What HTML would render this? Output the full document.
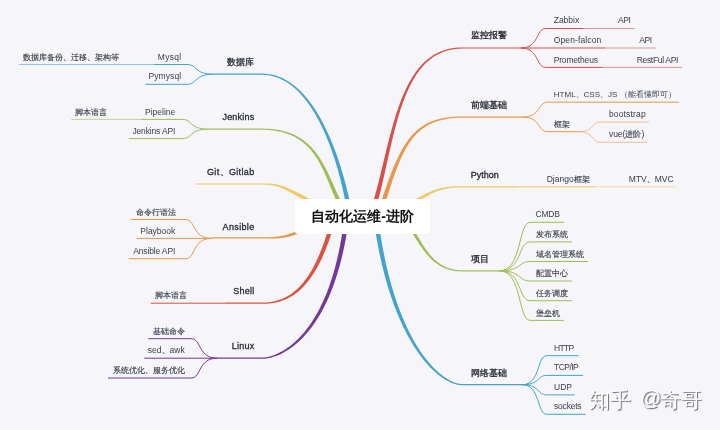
<!DOCTYPE html>
<html><head><meta charset="utf-8"><style>
html,body{margin:0;padding:0;width:720px;height:430px;overflow:hidden;background:#f5f5fa;}
svg{position:absolute;left:0;top:0;}
.txt{will-change:transform;}
.ctr,.wm{will-change:transform;}
text{font-family:"Liberation Sans",sans-serif;}
.box{position:absolute;left:295px;top:199px;width:135px;height:35px;background:#fff;border-radius:3px;}
.ctr{position:absolute;left:295px;top:208px;width:135px;height:35px;line-height:17px;text-align:center;font:bold 14px "Liberation Sans",sans-serif;color:#111;}
.wm{position:absolute;top:386px;font:21px "Liberation Sans",sans-serif;color:#fff;text-shadow:1.4px 1.4px 0.8px rgba(0,0,0,0.42),0.7px 0.7px 0.4px rgba(0,0,0,0.22);white-space:nowrap;}
</style></head><body>
<svg width="720" height="430" viewBox="0 0 720 430">
<path d="M352.55,215.62 L352.04,212.83 L351.50,209.98 L350.93,207.08 L350.32,204.14 L349.69,201.16 L349.02,198.13 L348.32,195.07 L347.58,191.97 L346.82,188.85 L346.02,185.70 L345.19,182.53 L344.32,179.34 L343.42,176.14 L342.49,172.92 L341.52,169.69 L340.52,166.46 L339.49,163.23 L338.42,160.01 L337.31,156.79 L336.17,153.57 L335.00,150.37 L333.79,147.19 L332.54,144.03 L331.26,140.89 L329.94,137.78 L328.58,134.70 L327.19,131.65 L325.76,128.64 L324.30,125.68 L322.80,122.75 L321.25,119.88 L319.68,117.06 L318.06,114.29 L316.41,111.59 L314.71,108.94 L312.98,106.36 L311.21,103.85 L309.40,101.42 L307.55,99.06 L305.66,96.78 L303.73,94.59 L301.77,92.48 L299.76,90.47 L297.71,88.55 L295.62,86.73 L293.48,85.01 L291.31,83.39 L289.10,81.89 L286.84,80.50 L284.55,79.23 L282.21,78.07 L279.83,77.04 L277.41,76.14 L274.94,75.37 L272.44,74.73 L269.89,74.24 L267.30,73.88 L264.67,73.67 L262.00,73.60 L262.00,74.80 L264.60,74.88 L267.16,75.11 L269.67,75.49 L272.14,76.01 L274.57,76.66 L276.95,77.44 L279.29,78.36 L281.58,79.39 L283.84,80.55 L286.05,81.83 L288.22,83.22 L290.35,84.72 L292.44,86.33 L294.49,88.05 L296.49,89.87 L298.46,91.78 L300.39,93.79 L302.28,95.88 L304.13,98.07 L305.94,100.34 L307.71,102.69 L309.44,105.11 L311.13,107.61 L312.79,110.18 L314.41,112.81 L315.98,115.51 L317.52,118.26 L319.03,121.07 L320.49,123.94 L321.92,126.85 L323.31,129.80 L324.66,132.80 L325.98,135.84 L327.26,138.91 L328.50,142.01 L329.71,145.13 L330.88,148.29 L332.01,151.46 L333.11,154.64 L334.17,157.84 L335.20,161.05 L336.20,164.27 L337.15,167.49 L338.08,170.70 L338.97,173.92 L339.82,177.12 L340.64,180.31 L341.43,183.49 L342.18,186.65 L342.90,189.78 L343.59,192.89 L344.25,195.97 L344.87,199.01 L345.45,202.02 L346.01,204.99 L346.53,207.91 L347.03,210.79 L347.49,213.61 L347.91,216.38Z" fill="#43a3cb"/>
<line x1="262.0" y1="74.2" x2="213.6" y2="74.2" stroke="#43a3cb" stroke-width="1.2"/>
<path d="M349.02,214.67 L347.90,213.06 L346.81,211.40 L345.75,209.71 L344.72,207.99 L343.71,206.23 L342.73,204.45 L341.76,202.63 L340.82,200.79 L339.89,198.93 L338.98,197.05 L338.08,195.15 L337.19,193.23 L336.31,191.31 L335.43,189.36 L334.56,187.42 L333.69,185.46 L332.81,183.50 L331.93,181.54 L331.05,179.58 L330.15,177.62 L329.25,175.67 L328.33,173.73 L327.39,171.80 L326.43,169.87 L325.46,167.97 L324.45,166.08 L323.43,164.21 L322.37,162.36 L321.28,160.54 L320.16,158.74 L319.00,156.97 L317.80,155.23 L316.56,153.53 L315.28,151.86 L313.95,150.23 L312.57,148.64 L311.14,147.09 L309.65,145.59 L308.11,144.14 L306.51,142.74 L304.85,141.39 L303.13,140.10 L301.35,138.86 L299.49,137.68 L297.57,136.56 L295.57,135.51 L293.50,134.53 L291.35,133.61 L289.13,132.76 L286.82,131.99 L284.43,131.29 L281.95,130.67 L279.39,130.12 L276.73,129.66 L273.98,129.27 L271.14,128.98 L268.19,128.76 L265.15,128.64 L262.00,128.60 L262.00,129.80 L265.11,129.85 L268.12,130.00 L271.02,130.24 L273.82,130.57 L276.51,130.98 L279.12,131.47 L281.62,132.05 L284.03,132.70 L286.36,133.42 L288.59,134.22 L290.74,135.08 L292.81,136.02 L294.80,137.02 L296.71,138.08 L298.54,139.20 L300.31,140.38 L302.00,141.62 L303.63,142.91 L305.20,144.25 L306.71,145.65 L308.15,147.09 L309.55,148.57 L310.89,150.10 L312.18,151.68 L313.42,153.29 L314.61,154.94 L315.77,156.63 L316.88,158.35 L317.96,160.10 L319.00,161.88 L320.00,163.70 L320.98,165.53 L321.93,167.39 L322.86,169.27 L323.76,171.17 L324.64,173.09 L325.50,175.03 L326.35,176.98 L327.19,178.93 L328.01,180.90 L328.83,182.88 L329.64,184.86 L330.45,186.84 L331.26,188.83 L332.07,190.81 L332.89,192.79 L333.71,194.77 L334.54,196.73 L335.39,198.69 L336.25,200.64 L337.13,202.58 L338.03,204.50 L338.95,206.40 L339.90,208.28 L340.88,210.14 L341.90,211.98 L342.94,213.79 L344.02,215.57 L345.15,217.33Z" fill="#a0bd55"/>
<line x1="262.0" y1="129.2" x2="208.5" y2="129.2" stroke="#a0bd55" stroke-width="1.2"/>
<path d="M340.23,213.89 L337.50,212.58 L334.86,211.31 L332.31,210.08 L329.84,208.88 L327.46,207.71 L325.16,206.58 L322.95,205.48 L320.81,204.42 L318.74,203.39 L316.75,202.39 L314.83,201.43 L312.98,200.50 L311.20,199.59 L309.48,198.72 L307.82,197.88 L306.22,197.07 L304.68,196.29 L303.19,195.53 L301.76,194.81 L300.37,194.11 L299.04,193.44 L297.75,192.79 L296.50,192.17 L295.29,191.58 L294.13,191.01 L293.00,190.47 L291.91,189.95 L290.84,189.46 L289.81,188.98 L288.81,188.54 L287.83,188.11 L286.87,187.70 L285.94,187.32 L285.02,186.96 L284.12,186.62 L283.24,186.30 L282.36,185.99 L281.50,185.71 L280.65,185.45 L279.80,185.20 L278.96,184.98 L278.11,184.77 L277.27,184.58 L276.43,184.40 L275.58,184.24 L274.72,184.10 L273.86,183.97 L272.98,183.86 L272.10,183.76 L271.19,183.67 L270.27,183.60 L269.33,183.54 L268.37,183.49 L267.38,183.45 L266.37,183.42 L265.33,183.41 L264.25,183.40 L263.14,183.40 L262.00,183.40 L262.00,184.60 L263.13,184.61 L264.23,184.64 L265.29,184.68 L266.32,184.73 L267.31,184.79 L268.28,184.87 L269.22,184.95 L270.13,185.05 L271.03,185.17 L271.90,185.29 L272.75,185.43 L273.59,185.59 L274.41,185.76 L275.22,185.95 L276.03,186.15 L276.83,186.36 L277.62,186.60 L278.41,186.85 L279.20,187.11 L280.00,187.40 L280.80,187.70 L281.61,188.03 L282.43,188.37 L283.26,188.73 L284.10,189.12 L284.97,189.52 L285.85,189.95 L286.76,190.40 L287.69,190.87 L288.65,191.37 L289.64,191.89 L290.66,192.43 L291.71,193.00 L292.79,193.60 L293.92,194.22 L295.09,194.87 L296.29,195.54 L297.55,196.24 L298.85,196.97 L300.20,197.73 L301.60,198.51 L303.05,199.33 L304.56,200.17 L306.13,201.05 L307.76,201.96 L309.45,202.89 L311.21,203.86 L313.03,204.86 L314.92,205.89 L316.89,206.96 L318.92,208.06 L321.04,209.19 L323.23,210.36 L325.50,211.56 L327.86,212.80 L330.30,214.07 L332.82,215.38 L335.44,216.72 L338.15,218.11Z" fill="#f1c862"/>
<line x1="262.0" y1="184.0" x2="195.3" y2="184.0" stroke="#f1c862" stroke-width="1.2"/>
<path d="M338.46,213.82 L335.82,214.94 L333.27,216.02 L330.81,217.06 L328.43,218.06 L326.14,219.04 L323.92,219.98 L321.79,220.88 L319.73,221.76 L317.74,222.60 L315.83,223.41 L313.98,224.18 L312.20,224.93 L310.49,225.65 L308.84,226.34 L307.25,227.00 L305.71,227.64 L304.23,228.24 L302.81,228.82 L301.44,229.38 L300.11,229.91 L298.83,230.41 L297.60,230.89 L296.41,231.34 L295.26,231.78 L294.14,232.19 L293.06,232.58 L292.02,232.95 L291.00,233.29 L290.01,233.62 L289.05,233.93 L288.11,234.22 L287.20,234.49 L286.30,234.75 L285.42,234.99 L284.56,235.21 L283.70,235.42 L282.86,235.61 L282.02,235.79 L281.19,235.95 L280.36,236.11 L279.53,236.25 L278.69,236.38 L277.86,236.49 L277.01,236.60 L276.16,236.70 L275.29,236.78 L274.41,236.86 L273.52,236.93 L272.61,237.00 L271.67,237.05 L270.72,237.10 L269.74,237.14 L268.73,237.18 L267.69,237.21 L266.63,237.24 L265.53,237.26 L264.39,237.28 L263.21,237.29 L262.00,237.30 L262.00,238.50 L263.22,238.51 L264.39,238.52 L265.53,238.53 L266.64,238.54 L267.71,238.55 L268.75,238.56 L269.77,238.56 L270.75,238.56 L271.72,238.55 L272.67,238.54 L273.60,238.53 L274.51,238.50 L275.41,238.47 L276.29,238.43 L277.17,238.38 L278.04,238.33 L278.91,238.26 L279.78,238.18 L280.64,238.09 L281.51,237.99 L282.38,237.87 L283.25,237.74 L284.14,237.60 L285.04,237.45 L285.95,237.27 L286.87,237.09 L287.81,236.88 L288.77,236.66 L289.75,236.42 L290.76,236.17 L291.79,235.89 L292.85,235.60 L293.94,235.28 L295.06,234.95 L296.22,234.59 L297.41,234.22 L298.64,233.82 L299.92,233.39 L301.23,232.95 L302.60,232.48 L304.01,231.98 L305.47,231.47 L306.98,230.92 L308.55,230.35 L310.18,229.75 L311.86,229.12 L313.61,228.47 L315.42,227.78 L317.30,227.07 L319.25,226.33 L321.26,225.55 L323.35,224.75 L325.52,223.91 L327.76,223.04 L330.09,222.14 L332.49,221.20 L334.98,220.23 L337.56,219.22 L340.23,218.18Z" fill="#e8984a"/>
<line x1="262.0" y1="237.9" x2="211.5" y2="237.9" stroke="#e8984a" stroke-width="1.2"/>
<path d="M331.81,215.42 L330.86,219.25 L329.90,222.96 L328.92,226.56 L327.93,230.05 L326.92,233.43 L325.90,236.71 L324.86,239.89 L323.81,242.96 L322.75,245.93 L321.68,248.80 L320.59,251.58 L319.50,254.26 L318.39,256.84 L317.27,259.33 L316.14,261.74 L315.01,264.05 L313.86,266.27 L312.70,268.41 L311.54,270.47 L310.37,272.44 L309.19,274.33 L308.00,276.14 L306.80,277.88 L305.60,279.54 L304.40,281.12 L303.18,282.64 L301.97,284.08 L300.74,285.45 L299.51,286.76 L298.28,288.00 L297.04,289.17 L295.80,290.29 L294.56,291.34 L293.31,292.33 L292.06,293.27 L290.81,294.15 L289.55,294.98 L288.30,295.75 L287.04,296.48 L285.78,297.15 L284.51,297.78 L283.25,298.36 L281.99,298.90 L280.72,299.39 L279.46,299.84 L278.19,300.25 L276.93,300.62 L275.67,300.96 L274.41,301.26 L273.15,301.52 L271.90,301.76 L270.64,301.96 L269.39,302.13 L268.15,302.27 L266.91,302.39 L265.67,302.47 L264.44,302.54 L263.22,302.58 L262.00,302.60 L262.00,303.80 L263.24,303.80 L264.48,303.78 L265.74,303.75 L267.00,303.69 L268.27,303.61 L269.55,303.50 L270.83,303.36 L272.12,303.20 L273.42,303.00 L274.72,302.77 L276.03,302.51 L277.34,302.21 L278.66,301.88 L279.99,301.50 L281.32,301.08 L282.65,300.62 L283.98,300.11 L285.32,299.55 L286.66,298.95 L288.00,298.30 L289.34,297.59 L290.68,296.83 L292.03,296.02 L293.37,295.15 L294.71,294.22 L296.05,293.23 L297.39,292.18 L298.73,291.06 L300.06,289.88 L301.39,288.63 L302.71,287.32 L304.03,285.93 L305.35,284.48 L306.66,282.95 L307.96,281.35 L309.26,279.67 L310.55,277.92 L311.83,276.08 L313.11,274.17 L314.38,272.17 L315.64,270.09 L316.89,267.93 L318.13,265.68 L319.36,263.34 L320.58,260.91 L321.79,258.38 L322.99,255.77 L324.17,253.06 L325.35,250.26 L326.51,247.36 L327.66,244.35 L328.80,241.25 L329.93,238.05 L331.04,234.74 L332.13,231.32 L333.21,227.80 L334.28,224.17 L335.33,220.43 L336.37,216.58Z" fill="#d9533f"/>
<line x1="262.0" y1="303.2" x2="225" y2="303.2" stroke="#d9533f" stroke-width="1.2"/>
<path d="M344.51,215.72 L343.80,221.69 L343.03,227.50 L342.20,233.14 L341.31,238.62 L340.36,243.94 L339.36,249.11 L338.30,254.12 L337.20,258.99 L336.05,263.70 L334.85,268.27 L333.60,272.69 L332.32,276.97 L330.99,281.10 L329.63,285.11 L328.23,288.97 L326.80,292.70 L325.33,296.30 L323.84,299.77 L322.31,303.11 L320.77,306.33 L319.20,309.43 L317.60,312.40 L315.99,315.26 L314.36,318.00 L312.71,320.62 L311.05,323.14 L309.38,325.55 L307.70,327.84 L306.02,330.04 L304.32,332.13 L302.63,334.12 L300.93,336.01 L299.23,337.80 L297.54,339.50 L295.85,341.11 L294.17,342.63 L292.49,344.06 L290.83,345.40 L289.18,346.67 L287.54,347.85 L285.92,348.95 L284.32,349.97 L282.74,350.92 L281.19,351.80 L279.65,352.60 L278.15,353.34 L276.67,354.01 L275.23,354.61 L273.82,355.16 L272.44,355.64 L271.10,356.06 L269.80,356.43 L268.55,356.75 L267.33,357.01 L266.17,357.22 L265.05,357.38 L263.98,357.50 L262.96,357.57 L262.00,357.60 L262.00,358.80 L263.01,358.79 L264.07,358.74 L265.19,358.65 L266.36,358.51 L267.57,358.33 L268.84,358.09 L270.15,357.81 L271.50,357.47 L272.90,357.07 L274.33,356.62 L275.80,356.10 L277.31,355.52 L278.85,354.88 L280.42,354.16 L282.02,353.38 L283.65,352.52 L285.30,351.59 L286.97,350.59 L288.67,349.50 L290.38,348.33 L292.11,347.08 L293.86,345.75 L295.61,344.32 L297.38,342.81 L299.16,341.20 L300.94,339.50 L302.72,337.70 L304.51,335.80 L306.30,333.81 L308.08,331.70 L309.86,329.50 L311.63,327.18 L313.39,324.76 L315.14,322.22 L316.88,319.58 L318.60,316.81 L320.31,313.93 L322.00,310.92 L323.66,307.80 L325.30,304.55 L326.92,301.17 L328.50,297.66 L330.06,294.02 L331.58,290.25 L333.07,286.35 L334.53,282.31 L335.94,278.12 L337.32,273.80 L338.65,269.33 L339.94,264.72 L341.18,259.96 L342.37,255.04 L343.51,249.98 L344.60,244.76 L345.63,239.39 L346.61,233.85 L347.53,228.16 L348.38,222.30 L349.18,216.28Z" fill="#743896"/>
<line x1="262.0" y1="358.2" x2="217.2" y2="358.2" stroke="#743896" stroke-width="1.2"/>
<path d="M373.36,216.75 L374.44,213.35 L375.49,209.89 L376.51,206.37 L377.50,202.81 L378.46,199.21 L379.40,195.56 L380.32,191.88 L381.23,188.16 L382.11,184.42 L382.99,180.65 L383.85,176.86 L384.71,173.05 L385.56,169.23 L386.41,165.40 L387.26,161.57 L388.11,157.73 L388.96,153.90 L389.82,150.07 L390.70,146.26 L391.58,142.46 L392.48,138.68 L393.40,134.92 L394.33,131.19 L395.29,127.49 L396.28,123.82 L397.29,120.20 L398.33,116.61 L399.40,113.08 L400.51,109.59 L401.65,106.16 L402.83,102.79 L404.06,99.48 L405.33,96.24 L406.64,93.07 L408.01,89.98 L409.43,86.96 L410.90,84.03 L412.42,81.19 L414.01,78.44 L415.66,75.78 L417.37,73.23 L419.14,70.77 L420.99,68.42 L422.91,66.19 L424.90,64.07 L426.96,62.06 L429.11,60.18 L431.33,58.43 L433.64,56.80 L436.04,55.31 L438.53,53.96 L441.11,52.75 L443.78,51.68 L446.56,50.77 L449.43,50.01 L452.41,49.40 L455.50,48.97 L458.69,48.70 L462.00,48.60 L462.00,47.40 L458.63,47.48 L455.36,47.73 L452.20,48.15 L449.14,48.73 L446.18,49.48 L443.32,50.38 L440.55,51.44 L437.88,52.65 L435.29,54.01 L432.80,55.51 L430.39,57.14 L428.07,58.91 L425.83,60.81 L423.67,62.84 L421.58,64.98 L419.58,67.24 L417.64,69.62 L415.78,72.10 L413.98,74.68 L412.25,77.37 L410.59,80.15 L408.98,83.02 L407.43,85.97 L405.94,89.01 L404.49,92.13 L403.10,95.32 L401.76,98.58 L400.46,101.91 L399.21,105.30 L397.99,108.75 L396.81,112.25 L395.67,115.80 L394.56,119.39 L393.48,123.03 L392.42,126.70 L391.39,130.41 L390.39,134.15 L389.40,137.91 L388.43,141.69 L387.48,145.49 L386.53,149.30 L385.60,153.12 L384.68,156.94 L383.76,160.76 L382.84,164.58 L381.92,168.39 L381.00,172.19 L380.08,175.97 L379.15,179.73 L378.21,183.46 L377.25,187.17 L376.29,190.84 L375.30,194.48 L374.30,198.07 L373.27,201.61 L372.22,205.11 L371.14,208.55 L370.04,211.93 L368.90,215.25Z" fill="#d84f45"/>
<line x1="462.0" y1="48.0" x2="520.7" y2="48.0" stroke="#d84f45" stroke-width="1.2"/>
<path d="M381.03,216.72 L382.07,213.38 L383.08,210.10 L384.08,206.88 L385.06,203.72 L386.02,200.61 L386.97,197.57 L387.91,194.58 L388.84,191.64 L389.77,188.77 L390.68,185.95 L391.59,183.20 L392.50,180.50 L393.41,177.85 L394.31,175.27 L395.22,172.74 L396.13,170.27 L397.05,167.86 L397.97,165.51 L398.90,163.21 L399.84,160.97 L400.79,158.79 L401.76,156.67 L402.74,154.61 L403.73,152.60 L404.74,150.65 L405.78,148.75 L406.83,146.92 L407.90,145.14 L409.00,143.42 L410.13,141.75 L411.28,140.14 L412.47,138.59 L413.68,137.09 L414.93,135.65 L416.21,134.27 L417.52,132.94 L418.88,131.67 L420.27,130.45 L421.71,129.29 L423.19,128.18 L424.72,127.13 L426.29,126.13 L427.91,125.18 L429.59,124.30 L431.31,123.46 L433.09,122.69 L434.93,121.96 L436.83,121.30 L438.78,120.69 L440.80,120.13 L442.88,119.63 L445.03,119.19 L447.24,118.80 L449.52,118.48 L451.87,118.20 L454.29,117.99 L456.79,117.83 L459.36,117.74 L462.00,117.70 L462.00,116.50 L459.33,116.52 L456.73,116.59 L454.21,116.72 L451.75,116.90 L449.36,117.14 L447.04,117.44 L444.78,117.79 L442.58,118.20 L440.44,118.67 L438.36,119.20 L436.34,119.78 L434.38,120.42 L432.47,121.12 L430.61,121.87 L428.80,122.69 L427.04,123.56 L425.33,124.49 L423.67,125.49 L422.05,126.54 L420.47,127.64 L418.94,128.81 L417.45,130.04 L415.99,131.32 L414.58,132.66 L413.20,134.06 L411.86,135.52 L410.55,137.04 L409.27,138.61 L408.03,140.24 L406.81,141.93 L405.62,143.67 L404.46,145.47 L403.31,147.33 L402.20,149.24 L401.10,151.21 L400.02,153.24 L398.96,155.32 L397.91,157.46 L396.88,159.66 L395.86,161.91 L394.85,164.21 L393.85,166.58 L392.85,168.99 L391.86,171.47 L390.88,174.00 L389.90,176.59 L388.91,179.23 L387.93,181.92 L386.94,184.68 L385.95,187.49 L384.96,190.35 L383.95,193.27 L382.94,196.25 L381.91,199.28 L380.87,202.37 L379.82,205.51 L378.75,208.71 L377.67,211.97 L376.56,215.28Z" fill="#e8984a"/>
<line x1="462.0" y1="117.1" x2="522.5" y2="117.1" stroke="#e8984a" stroke-width="1.2"/>
<path d="M385.88,218.18 L388.00,217.27 L390.04,216.38 L392.01,215.49 L393.92,214.61 L395.77,213.74 L397.55,212.88 L399.27,212.03 L400.93,211.20 L402.54,210.37 L404.10,209.55 L405.60,208.74 L407.06,207.95 L408.46,207.17 L409.83,206.40 L411.15,205.64 L412.43,204.89 L413.67,204.16 L414.88,203.44 L416.06,202.73 L417.20,202.04 L418.31,201.36 L419.40,200.69 L420.46,200.04 L421.50,199.40 L422.52,198.78 L423.52,198.17 L424.51,197.58 L425.48,197.00 L426.45,196.44 L427.40,195.89 L428.35,195.36 L429.29,194.84 L430.23,194.34 L431.18,193.85 L432.12,193.38 L433.08,192.93 L434.04,192.49 L435.01,192.07 L435.99,191.67 L436.99,191.28 L438.01,190.91 L439.04,190.56 L440.10,190.22 L441.19,189.90 L442.30,189.60 L443.44,189.32 L444.62,189.05 L445.82,188.81 L447.07,188.58 L448.35,188.37 L449.67,188.18 L451.04,188.01 L452.45,187.86 L453.91,187.73 L455.42,187.62 L456.98,187.53 L458.60,187.46 L460.27,187.42 L462.00,187.40 L462.00,186.20 L460.26,186.20 L458.57,186.22 L456.93,186.26 L455.35,186.31 L453.82,186.39 L452.34,186.48 L450.90,186.59 L449.50,186.73 L448.15,186.88 L446.83,187.05 L445.55,187.23 L444.30,187.44 L443.09,187.67 L441.90,187.91 L440.74,188.17 L439.61,188.45 L438.50,188.75 L437.41,189.06 L436.33,189.39 L435.28,189.74 L434.24,190.11 L433.21,190.49 L432.19,190.89 L431.18,191.30 L430.18,191.73 L429.18,192.18 L428.18,192.64 L427.18,193.11 L426.18,193.60 L425.18,194.10 L424.17,194.62 L423.15,195.15 L422.12,195.70 L421.08,196.25 L420.02,196.82 L418.94,197.41 L417.84,198.00 L416.73,198.61 L415.58,199.23 L414.41,199.86 L413.22,200.50 L411.99,201.15 L410.72,201.81 L409.43,202.49 L408.09,203.18 L406.71,203.87 L405.29,204.58 L403.83,205.30 L402.32,206.02 L400.76,206.76 L399.15,207.51 L397.48,208.27 L395.76,209.03 L393.98,209.81 L392.14,210.59 L390.24,211.39 L388.27,212.19 L386.23,213.00 L384.12,213.82Z" fill="#f1c862"/>
<line x1="462.0" y1="186.8" x2="517" y2="186.8" stroke="#f1c862" stroke-width="1.2"/>
<path d="M392.27,218.35 L393.41,218.38 L394.51,218.49 L395.58,218.68 L396.62,218.93 L397.63,219.26 L398.62,219.66 L399.60,220.14 L400.56,220.68 L401.50,221.29 L402.43,221.96 L403.35,222.70 L404.26,223.51 L405.16,224.37 L406.05,225.29 L406.93,226.26 L407.80,227.29 L408.67,228.36 L409.52,229.48 L410.38,230.64 L411.23,231.83 L412.08,233.06 L412.93,234.32 L413.78,235.60 L414.64,236.91 L415.50,238.24 L416.37,239.58 L417.25,240.94 L418.14,242.30 L419.04,243.68 L419.96,245.05 L420.89,246.43 L421.85,247.80 L422.82,249.17 L423.82,250.52 L424.84,251.86 L425.89,253.19 L426.97,254.49 L428.08,255.77 L429.23,257.03 L430.40,258.25 L431.62,259.44 L432.87,260.59 L434.17,261.71 L435.51,262.78 L436.89,263.80 L438.32,264.77 L439.80,265.69 L441.33,266.55 L442.91,267.35 L444.55,268.09 L446.24,268.77 L447.99,269.37 L449.80,269.90 L451.67,270.35 L453.60,270.73 L455.60,271.03 L457.66,271.24 L459.80,271.36 L462.00,271.40 L462.00,270.20 L459.85,270.15 L457.77,270.00 L455.76,269.76 L453.83,269.44 L451.97,269.05 L450.17,268.57 L448.43,268.02 L446.76,267.40 L445.15,266.72 L443.60,265.97 L442.10,265.16 L440.66,264.29 L439.26,263.37 L437.92,262.39 L436.62,261.37 L435.37,260.31 L434.15,259.20 L432.98,258.05 L431.85,256.86 L430.75,255.64 L429.69,254.40 L428.65,253.12 L427.65,251.82 L426.67,250.49 L425.72,249.15 L424.80,247.79 L423.89,246.42 L423.00,245.04 L422.14,243.65 L421.28,242.26 L420.44,240.86 L419.61,239.47 L418.79,238.08 L417.98,236.71 L417.17,235.34 L416.36,233.98 L415.55,232.64 L414.74,231.32 L413.93,230.03 L413.10,228.76 L412.27,227.51 L411.43,226.30 L410.57,225.12 L409.69,223.97 L408.80,222.87 L407.87,221.80 L406.92,220.79 L405.95,219.82 L404.93,218.90 L403.88,218.04 L402.79,217.24 L401.66,216.51 L400.48,215.85 L399.25,215.26 L397.98,214.75 L396.65,214.34 L395.28,214.01 L393.86,213.78 L392.39,213.65Z" fill="#a0bd55"/>
<line x1="462.0" y1="270.8" x2="499.4" y2="270.8" stroke="#a0bd55" stroke-width="1.2"/>
<path d="M373.22,216.30 L374.12,222.79 L375.08,229.13 L376.08,235.32 L377.14,241.35 L378.25,247.25 L379.40,252.99 L380.60,258.59 L381.85,264.05 L383.14,269.36 L384.47,274.53 L385.83,279.57 L387.24,284.46 L388.68,289.22 L390.15,293.85 L391.66,298.34 L393.19,302.69 L394.76,306.92 L396.35,311.02 L397.96,314.99 L399.60,318.83 L401.26,322.55 L402.93,326.14 L404.63,329.61 L406.34,332.96 L408.06,336.20 L409.80,339.31 L411.54,342.31 L413.29,345.19 L415.05,347.95 L416.82,350.61 L418.59,353.15 L420.36,355.59 L422.13,357.91 L423.89,360.13 L425.65,362.25 L427.41,364.26 L429.16,366.17 L430.89,367.98 L432.62,369.68 L434.33,371.29 L436.03,372.81 L437.71,374.23 L439.37,375.55 L441.02,376.78 L442.64,377.93 L444.23,378.98 L445.80,379.94 L447.34,380.82 L448.86,381.61 L450.34,382.32 L451.79,382.95 L453.20,383.50 L454.58,383.97 L455.92,384.36 L457.22,384.67 L458.48,384.91 L459.70,385.08 L460.87,385.17 L462.00,385.20 L462.00,384.00 L460.95,383.96 L459.85,383.84 L458.71,383.66 L457.52,383.40 L456.29,383.07 L455.01,382.66 L453.71,382.17 L452.36,381.61 L450.98,380.96 L449.57,380.24 L448.13,379.43 L446.66,378.54 L445.16,377.56 L443.63,376.50 L442.09,375.35 L440.52,374.11 L438.93,372.78 L437.32,371.35 L435.70,369.83 L434.07,368.22 L432.42,366.51 L430.76,364.70 L429.09,362.79 L427.41,360.78 L425.73,358.67 L424.04,356.46 L422.35,354.14 L420.66,351.71 L418.98,349.17 L417.29,346.53 L415.61,343.77 L413.94,340.91 L412.28,337.92 L410.63,334.83 L408.99,331.61 L407.36,328.28 L405.75,324.83 L404.16,321.26 L402.58,317.56 L401.03,313.74 L399.50,309.80 L397.99,305.72 L396.51,301.52 L395.06,297.20 L393.64,292.73 L392.25,288.14 L390.90,283.41 L389.58,278.55 L388.29,273.55 L387.05,268.41 L385.84,263.14 L384.68,257.72 L383.56,252.15 L382.49,246.45 L381.47,240.60 L380.49,234.60 L379.57,228.45 L378.70,222.15 L377.89,215.70Z" fill="#43a3cb"/>
<line x1="462.0" y1="384.6" x2="522.2" y2="384.6" stroke="#43a3cb" stroke-width="1.2"/>
<path d="M213.6,74.2 C193.65,74.2 197.64,64.5 187,64.5 L154,64.5" fill="none" stroke="#43a3cb" stroke-width="1.0" opacity="1"/>
<line x1="154" y1="64.5" x2="19" y2="64.5" stroke="#43a3cb" stroke-width="0.9" opacity="0.65"/>
<path d="M213.6,74.2 C193.65,74.2 197.64,84.3 187,84.3 L145.3,84.3" fill="none" stroke="#43a3cb" stroke-width="1.0" opacity="1"/>
<path d="M208.5,129.2 C188.85,129.2 192.78,119.4 182.3,119.4 L141.3,119.4" fill="none" stroke="#a0bd55" stroke-width="1.0" opacity="1"/>
<line x1="141.3" y1="119.4" x2="71.2" y2="119.4" stroke="#a0bd55" stroke-width="0.9" opacity="0.65"/>
<path d="M208.5,129.2 C188.85,129.2 192.78,138.6 182.3,138.6 L128.7,138.6" fill="none" stroke="#a0bd55" stroke-width="1.0" opacity="1"/>
<path d="M211.5,238.4 C192.00,238.4 195.90,219.5 185.5,219.5 L130.8,219.5" fill="none" stroke="#e8984a" stroke-width="1.0" opacity="1"/>
<line x1="211.5" y1="238.4" x2="136.7" y2="238.4" stroke="#e8984a" stroke-width="1.0" opacity="1"/>
<path d="M211.5,238.4 C192.00,238.4 195.90,258.7 185.5,258.7 L128.7,258.7" fill="none" stroke="#e8984a" stroke-width="1.0" opacity="1"/>
<line x1="225" y1="303.2" x2="150.8" y2="303.2" stroke="#d9533f" stroke-width="1.0" opacity="1"/>
<path d="M217.2,358.2 C197.70,358.2 201.60,338.7 191.2,338.7 L148.3,338.7" fill="none" stroke="#743896" stroke-width="1.0" opacity="1"/>
<line x1="217.2" y1="358.2" x2="144.2" y2="358.2" stroke="#743896" stroke-width="1.0" opacity="1"/>
<path d="M217.2,358.2 C197.70,358.2 201.60,378 191.2,378 L108,378" fill="none" stroke="#743896" stroke-width="1.0" opacity="1"/>
<path d="M520.7,48 C539.45,48 535.70,28.5 545.7,28.5 L583.3,28.5" fill="none" stroke="#d84f45" stroke-width="1.0" opacity="1"/>
<line x1="583.3" y1="28.5" x2="634.5" y2="28.5" stroke="#d84f45" stroke-width="0.9" opacity="0.65"/>
<line x1="520.7" y1="48" x2="605" y2="48" stroke="#d84f45" stroke-width="1.0" opacity="1"/>
<line x1="605" y1="48" x2="655.8" y2="48" stroke="#d84f45" stroke-width="0.9" opacity="0.65"/>
<path d="M520.7,48 C539.45,48 535.70,67.4 545.7,67.4 L602.5,67.4" fill="none" stroke="#d84f45" stroke-width="1.0" opacity="1"/>
<line x1="602.5" y1="67.4" x2="682" y2="67.4" stroke="#d84f45" stroke-width="0.9" opacity="0.65"/>
<path d="M522.5,117.1 C541.25,117.1 537.50,102.2 547.5,102.2 L678.9,102.2" fill="none" stroke="#e8984a" stroke-width="1.0" opacity="1"/>
<path d="M522.5,117.1 C541.25,117.1 537.50,131.7 547.5,131.7 L578.1,131.7" fill="none" stroke="#e8984a" stroke-width="1.0" opacity="1"/>
<path d="M578.1,131.7 C594.68,131.7 591.36,122.1 600.2,122.1 L648.9,122.1" fill="none" stroke="#e8984a" stroke-width="0.9" opacity="0.65"/>
<path d="M578.1,131.7 C594.68,131.7 591.36,142.3 600.2,142.3 L647.2,142.3" fill="none" stroke="#e8984a" stroke-width="0.9" opacity="0.65"/>
<line x1="517" y1="186.8" x2="595" y2="186.8" stroke="#f1c862" stroke-width="1.0" opacity="1"/>
<line x1="595" y1="186.8" x2="676.3" y2="186.8" stroke="#f1c862" stroke-width="0.9" opacity="0.65"/>
<path d="M499.4,270.8 C522.42,270.8 517.82,222.3 530.1,222.3 L564.2,222.3" fill="none" stroke="#a0bd55" stroke-width="1.0" opacity="1"/>
<path d="M499.4,270.8 C522.42,270.8 517.82,241.9 530.1,241.9 L572.2,241.9" fill="none" stroke="#a0bd55" stroke-width="1.0" opacity="1"/>
<path d="M499.4,270.8 C522.42,270.8 517.82,261.5 530.1,261.5 L588,261.5" fill="none" stroke="#a0bd55" stroke-width="1.0" opacity="1"/>
<path d="M499.4,270.8 C522.42,270.8 517.82,281.0 530.1,281.0 L571.7,281.0" fill="none" stroke="#a0bd55" stroke-width="1.0" opacity="1"/>
<path d="M499.4,270.8 C522.42,270.8 517.82,300.7 530.1,300.7 L571.7,300.7" fill="none" stroke="#a0bd55" stroke-width="1.0" opacity="1"/>
<path d="M499.4,270.8 C522.42,270.8 517.82,320.4 530.1,320.4 L563.8,320.4" fill="none" stroke="#a0bd55" stroke-width="1.0" opacity="1"/>
<path d="M522.2,384.7 C540.50,384.7 536.84,355.7 546.6,355.7 L578.7,355.7" fill="none" stroke="#43a3cb" stroke-width="1.0" opacity="1"/>
<path d="M522.2,384.7 C540.50,384.7 536.84,375.4 546.6,375.4 L583,375.4" fill="none" stroke="#43a3cb" stroke-width="1.0" opacity="1"/>
<path d="M522.2,384.7 C540.50,384.7 536.84,394.9 546.6,394.9 L574.6,394.9" fill="none" stroke="#43a3cb" stroke-width="1.0" opacity="1"/>
<path d="M522.2,384.7 C540.50,384.7 536.84,414.3 546.6,414.3 L585.7,414.3" fill="none" stroke="#43a3cb" stroke-width="1.0" opacity="1"/>
</svg>
<div class="box"></div>
<svg class="txt" width="720" height="430" viewBox="0 0 720 430">
<text x="254.2" y="65.2" text-anchor="end" fill="#262a33"><tspan font-size="9" stroke="#262a33" stroke-width="0.3">数据库</tspan></text>
<text x="254.39999999999998" y="120.19999999999999" text-anchor="end" fill="#262a33" letter-spacing="0.2"><tspan font-size="9" stroke="#262a33" stroke-width="0.3">Jenkins</tspan></text>
<text x="254.54999999999998" y="175.1" text-anchor="end" fill="#262a33" letter-spacing="0.35"><tspan font-size="9" stroke="#262a33" stroke-width="0.3">Git</tspan><tspan font-size="9" stroke="#262a33" stroke-width="0.3">、</tspan><tspan font-size="9" stroke="#262a33" stroke-width="0.3">Gitlab</tspan></text>
<text x="254.54999999999998" y="229.6" text-anchor="end" fill="#262a33" letter-spacing="0.35"><tspan font-size="9" stroke="#262a33" stroke-width="0.3">Ansible</tspan></text>
<text x="254.45" y="294.3" text-anchor="end" fill="#262a33" letter-spacing="0.25"><tspan font-size="9" stroke="#262a33" stroke-width="0.3">Shell</tspan></text>
<text x="254.45" y="349.2" text-anchor="end" fill="#262a33" letter-spacing="0.25"><tspan font-size="9" stroke="#262a33" stroke-width="0.3">Linux</tspan></text>
<text x="470.8" y="38" text-anchor="start" fill="#262a33"><tspan font-size="9" stroke="#262a33" stroke-width="0.3">监控报警</tspan></text>
<text x="470.8" y="108.1" text-anchor="start" fill="#262a33"><tspan font-size="9" stroke="#262a33" stroke-width="0.3">前端基础</tspan></text>
<text x="470.8" y="177.7" text-anchor="start" fill="#262a33"><tspan font-size="9" stroke="#262a33" stroke-width="0.3">Python</tspan></text>
<text x="470.8" y="261.8" text-anchor="start" fill="#262a33"><tspan font-size="9" stroke="#262a33" stroke-width="0.3">项目</tspan></text>
<text x="470.8" y="375.7" text-anchor="start" fill="#262a33"><tspan font-size="9" stroke="#262a33" stroke-width="0.3">网络基础</tspan></text>
<text x="181.5" y="59.5" text-anchor="end" fill="#3b404b" letter-spacing="0.3"><tspan font-size="8.5">Mysql</tspan></text>
<text x="181.29999999999998" y="79.3" text-anchor="end" fill="#3b404b" letter-spacing="0.1"><tspan font-size="8.5">Pymysql</tspan></text>
<text x="175.3" y="114.5" text-anchor="end" fill="#3b404b"><tspan font-size="8.5">Pipeline</tspan></text>
<text x="175.15" y="134" text-anchor="end" fill="#3b404b" letter-spacing="-0.15"><tspan font-size="8.5">Jenkins API</tspan></text>
<text x="176.2" y="214.5" text-anchor="end" fill="#3b404b"><tspan font-size="8" stroke="#3b404b" stroke-width="0.15">命令行语法</tspan></text>
<text x="175.3" y="233.6" text-anchor="end" fill="#3b404b"><tspan font-size="8.5">Playbook</tspan></text>
<text x="175.16000000000003" y="253.7" text-anchor="end" fill="#3b404b" letter-spacing="-0.14"><tspan font-size="8.5">Ansible API</tspan></text>
<text x="185" y="333.7" text-anchor="end" fill="#3b404b"><tspan font-size="8" stroke="#3b404b" stroke-width="0.15">基础命令</tspan></text>
<text x="184.7" y="353.2" text-anchor="end" fill="#3b404b"><tspan font-size="8.5">sed</tspan><tspan font-size="8" stroke="#3b404b" stroke-width="0.15">、</tspan><tspan font-size="8.5">awk</tspan></text>
<text x="185" y="373" text-anchor="end" fill="#3b404b"><tspan font-size="8" stroke="#3b404b" stroke-width="0.15">系统优化、服务优化</tspan></text>
<text x="23" y="59.5" text-anchor="start" fill="#3b404b"><tspan font-size="8" stroke="#3b404b" stroke-width="0.15">数据库备份、迁移、架构等</tspan></text>
<text x="75.3" y="114.5" text-anchor="start" fill="#3b404b"><tspan font-size="8" stroke="#3b404b" stroke-width="0.15">脚本语言</tspan></text>
<text x="155.3" y="298.3" text-anchor="start" fill="#3b404b"><tspan font-size="8" stroke="#3b404b" stroke-width="0.15">脚本语言</tspan></text>
<text x="553.7" y="23.3" text-anchor="start" fill="#3b404b"><tspan font-size="8.5">Zabbix</tspan></text>
<text x="553.7" y="43" text-anchor="start" fill="#3b404b" letter-spacing="0.13"><tspan font-size="8.5">Open-falcon</tspan></text>
<text x="553.7" y="62.5" text-anchor="start" fill="#3b404b" letter-spacing="-0.17"><tspan font-size="8.5">Prometheus</tspan></text>
<text x="618" y="23.3" text-anchor="start" fill="#3b404b" letter-spacing="-0.4"><tspan font-size="8.5">API</tspan></text>
<text x="639.2" y="43" text-anchor="start" fill="#3b404b" letter-spacing="-0.4"><tspan font-size="8.5">API</tspan></text>
<text x="636.7" y="62.5" text-anchor="start" fill="#3b404b" letter-spacing="-0.32"><tspan font-size="8.5">RestFul API</tspan></text>
<text x="553.8" y="97.2" text-anchor="start" fill="#3b404b"><tspan font-size="8">HTML</tspan><tspan font-size="8">、</tspan><tspan font-size="8">CSS</tspan><tspan font-size="8">、</tspan><tspan font-size="8">JS </tspan><tspan font-size="8">（能看懂即可）</tspan></text>
<text x="553.8" y="126.69999999999999" text-anchor="start" fill="#3b404b"><tspan font-size="8" stroke="#3b404b" stroke-width="0.15">框架</tspan></text>
<text x="608.9" y="116.9" text-anchor="start" fill="#3b404b" letter-spacing="0.17"><tspan font-size="8.5">bootstrap</tspan></text>
<text x="608.9" y="137.2" text-anchor="start" fill="#3b404b"><tspan font-size="8.5">vue(</tspan><tspan font-size="8" stroke="#3b404b" stroke-width="0.15">进阶</tspan><tspan font-size="8.5">)</tspan></text>
<text x="546.7" y="181.7" text-anchor="start" fill="#3b404b"><tspan font-size="8.5">Django</tspan><tspan font-size="8" stroke="#3b404b" stroke-width="0.15">框架</tspan></text>
<text x="628.8" y="181.7" text-anchor="start" fill="#3b404b"><tspan font-size="8.5">MTV</tspan><tspan font-size="8" stroke="#3b404b" stroke-width="0.15">、</tspan><tspan font-size="8.5">MVC</tspan></text>
<text x="535.5" y="217.4" text-anchor="start" fill="#3b404b" letter-spacing="-0.2"><tspan font-size="8.5">CMDB</tspan></text>
<text x="535.5" y="237.0" text-anchor="start" fill="#3b404b"><tspan font-size="8" stroke="#3b404b" stroke-width="0.15">发布系统</tspan></text>
<text x="535.5" y="256.5" text-anchor="start" fill="#3b404b"><tspan font-size="8" stroke="#3b404b" stroke-width="0.15">域名管理系统</tspan></text>
<text x="535.5" y="276.0" text-anchor="start" fill="#3b404b"><tspan font-size="8" stroke="#3b404b" stroke-width="0.15">配置中心</tspan></text>
<text x="535.5" y="295.7" text-anchor="start" fill="#3b404b"><tspan font-size="8" stroke="#3b404b" stroke-width="0.15">任务调度</tspan></text>
<text x="535.5" y="315.5" text-anchor="start" fill="#3b404b"><tspan font-size="8" stroke="#3b404b" stroke-width="0.15">堡垒机</tspan></text>
<text x="554" y="350.5" text-anchor="start" fill="#3b404b" letter-spacing="-0.7"><tspan font-size="8.5">HTTP</tspan></text>
<text x="554" y="370.2" text-anchor="start" fill="#3b404b" letter-spacing="-0.54"><tspan font-size="8.5">TCP/IP</tspan></text>
<text x="554" y="390.1" text-anchor="start" fill="#3b404b"><tspan font-size="8.5">UDP</tspan></text>
<text x="554" y="409.4" text-anchor="start" fill="#3b404b" letter-spacing="-0.2"><tspan font-size="8.5">sockets</tspan></text>
</svg>
<div class="ctr">自动化运维-进阶</div>
<div class="wm" style="left:589px">知乎</div><div class="wm" style="left:640px">@</div><div class="wm" style="left:660px">奇哥</div>
</body></html>
